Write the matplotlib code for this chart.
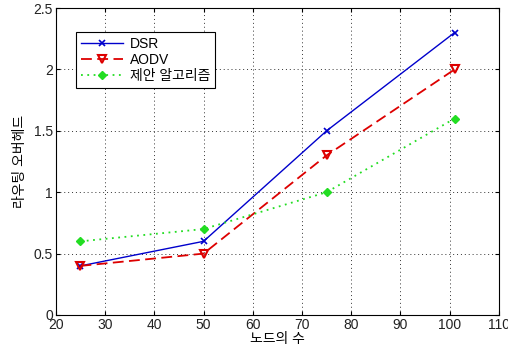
import matplotlib
matplotlib.use("Agg")
import matplotlib.pyplot as plt

plt.rcParams['font.family'] = ['Liberation Sans', 'Noto Sans CJK KR', 'DejaVu Sans']

# data
nodes = [25, 50, 75, 101]
dsr = [0.4, 0.6, 1.5, 2.3]
aodv = [0.4, 0.5, 1.3, 2.0]
proposed = [0.6, 0.7, 1.0, 1.6]

x_ticks = [20, 30, 40, 50, 60, 70, 80, 90, 100, 110]
y_ticks = [0, 0.5, 1, 1.5, 2, 2.5]
y_labels = ["0", "0.5", "1", "1.5", "2", "2.5"]

fig = plt.figure(figsize=(5.08, 3.5), dpi=100)
ax = fig.add_axes([0.110, 0.10, 0.872, 0.877])

ax.plot(nodes, dsr, color="#0000cc", linestyle="-", linewidth=1.0,
        marker="x", markersize=4, markeredgewidth=1.2, label="DSR")
ax.plot(nodes, aodv, color="#dd0000", linestyle=(0, (6, 3)), linewidth=1.3,
        marker="v", markersize=6, markerfacecolor="none", markeredgewidth=1.5,
        label="AODV")
ax.plot(nodes, proposed, color="#22dd22", linestyle=(0, (1, 2.5)), linewidth=1.3,
        marker="D", markersize=4, label="제안 알고리즘")

ax.set_xlim(20, 110)
ax.set_ylim(0, 2.5)
ax.set_xticks(x_ticks)
ax.set_yticks(y_ticks)
ax.set_yticklabels(y_labels)
ax.tick_params(direction="in", labelsize=10, top=True, right=True, length=3,
               labelcolor="#222222", pad=2)
ax.grid(True, linestyle=(0, (1, 3)), color="#333333", linewidth=0.7)
for s in ax.spines.values():
    s.set_linewidth(0.8)

ax.set_xlabel("노드의 수", fontsize=10, labelpad=0)
ax.set_ylabel("라우팅 오버헤드", fontsize=10, labelpad=5)

leg = ax.legend(loc="upper left", bbox_to_anchor=(0.03, 0.945), fontsize=10,
                fancybox=False, edgecolor="black", framealpha=1,
                handlelength=3.0, borderpad=0.35, labelspacing=0.15,
                handletextpad=0.5)
leg.get_frame().set_linewidth(0.8)

fig.savefig("out.png", dpi=100)
